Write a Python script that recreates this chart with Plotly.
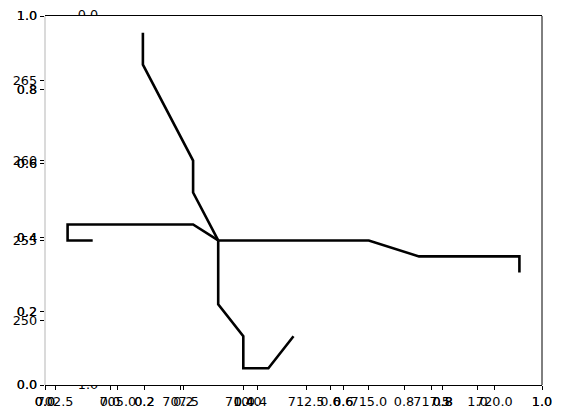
import plotly.graph_objects as go

# ---- data (line network) ----
branch_a_x = [706, 706, 708, 708, 709]
branch_a_y = [268, 266, 260, 258, 255]
branch_b_x = [704, 703, 703, 708, 709]
branch_b_y = [255, 255, 256, 256, 255]
branch_c_x = [709, 715, 717, 721, 721]
branch_c_y = [255, 255, 254, 254, 253]
branch_d_x = [709, 709, 710, 710, 711, 712]
branch_d_y = [255, 251, 249, 247, 247, 249]

# ---- tick values / labels ----
unit_ticks = [0.0, 0.2, 0.4, 0.6, 0.8, 1.0]
unit_labels = ["0.0", "0.2", "0.4", "0.6", "0.8", "1.0"]
data_x_ticks = [702.5, 705.0, 707.5, 710.0, 712.5, 715.0, 717.5, 720.0]
data_x_labels = ["702.5", "705.0", "707.5", "710.0", "712.5", "715.0", "717.5", "720.0"]
data_y_ticks = [250, 255, 260, 265]
data_y_labels = ["250", "255", "260", "265"]
hidden_top_label = "0.0"
hidden_bottom_label = "1.0"

W, H = 563, 418
L, R, T, B = 45, 542, 16, 385
xdom = [L / W, R / W]
ydom = [1 - B / H, 1 - T / H]

FONT = dict(family="DejaVu Sans", size=12.8, color="black")

fig = go.Figure()

# main data lines
for bx, by in [(branch_a_x, branch_a_y), (branch_b_x, branch_b_y),
               (branch_c_x, branch_c_y), (branch_d_x, branch_d_y)]:
    fig.add_trace(go.Scatter(x=bx, y=by, mode="lines", xaxis="x2", yaxis="y2",
                             line=dict(color="black", width=2.6),
                             hoverinfo="skip", showlegend=False))

# invisible anchors so each axis pair is drawn
for xa, ya, px, py in [("x", "y", 0.5, 0.5), ("x4", "y4", 0.5, 0.5), ("x3", "y", 0.5, 0.5)]:
    fig.add_trace(go.Scatter(x=[px], y=[py], mode="markers", xaxis=xa, yaxis=ya,
                             marker=dict(opacity=0), hoverinfo="skip", showlegend=False))

# partially hidden labels of a background axes (peeking out above/below the frame)
fig.add_trace(go.Scatter(x=[88], y=[15.6], mode="text", text=[hidden_top_label],
                         xaxis="x5", yaxis="y5", textfont=FONT, cliponaxis=True,
                         textposition="middle center", hoverinfo="skip", showlegend=False))
fig.add_trace(go.Scatter(x=[88], y=[385.4], mode="text", text=[hidden_bottom_label],
                         xaxis="x5", yaxis="y6", textfont=FONT, cliponaxis=True,
                         textposition="middle center", hoverinfo="skip", showlegend=False))

tick_common = dict(showgrid=False, zeroline=False, ticks="outside", ticklen=4.3,
                   tickwidth=1, tickcolor="black", tickfont=FONT, automargin=False)

third_lo = (L - 110) / 367.5
third_hi = (R - 110) / 367.5

fig.update_layout(
    width=W, height=H,
    margin=dict(l=0, r=0, t=0, b=0),
    paper_bgcolor="white", plot_bgcolor="white",
    xaxis=dict(domain=xdom, range=[0, 1], tickvals=unit_ticks, ticktext=unit_labels,
               showline=True, mirror=True, linecolor="black", linewidth=1, anchor="y",
               **tick_common),
    yaxis=dict(domain=ydom, range=[0, 1], tickvals=unit_ticks, ticktext=unit_labels,
               showline=False, anchor="x", **tick_common),
    xaxis4=dict(overlaying="x", range=[0, 1], tickvals=unit_ticks, ticktext=unit_labels,
                showline=False, anchor="y4", side="bottom", **tick_common),
    yaxis4=dict(overlaying="y", range=[0, 1], tickvals=unit_ticks, ticktext=unit_labels,
                showline=False, anchor="x4", side="left", **tick_common),
    xaxis2=dict(overlaying="x", range=[702.1, 721.9], tickvals=data_x_ticks,
                ticktext=data_x_labels, showline=False, anchor="y2", side="bottom",
                **tick_common),
    yaxis2=dict(overlaying="y", range=[245.95, 269.05], tickvals=data_y_ticks,
                ticktext=data_y_labels, showline=False, anchor="x2", side="left",
                **tick_common),
    xaxis3=dict(overlaying="x", range=[third_lo, third_hi], tickvals=unit_ticks,
                ticktext=unit_labels, showline=False, anchor="y", side="bottom",
                **tick_common),
    xaxis5=dict(domain=[0, 1], range=[0, W], visible=False, anchor="y5"),
    yaxis5=dict(domain=[1 - T / H, 1], range=[T, 0], visible=False, anchor="x5"),
    yaxis6=dict(domain=[0, 1 - B / H], range=[H, B], visible=False, anchor="x5"),
    shapes=[
        dict(type="line", xref="paper", yref="paper", x0=xdom[1], x1=xdom[1],
             y0=ydom[0], y1=ydom[1], line=dict(color="black", width=1), layer="above"),
        dict(type="line", xref="paper", yref="paper", x0=xdom[0], x1=xdom[0],
             y0=ydom[0], y1=ydom[1], line=dict(color="#b5b5b5", width=1), layer="above"),
    ],
)

fig.write_html("out.html")
